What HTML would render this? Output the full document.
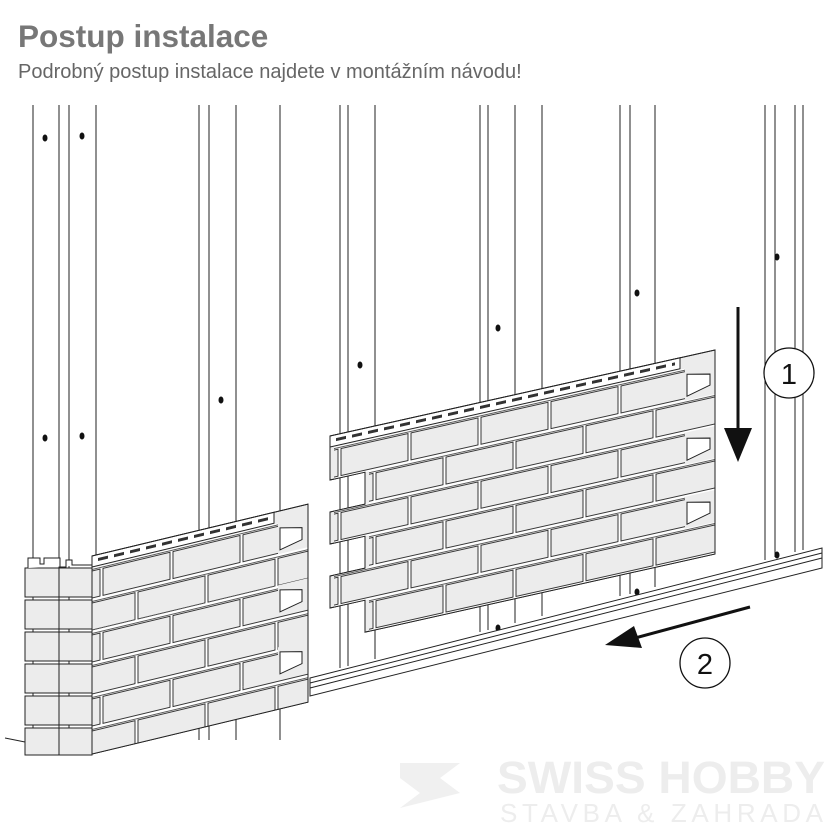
<!DOCTYPE html>
<html><head><meta charset="utf-8"><style>
html,body{margin:0;padding:0;background:#fff;width:828px;height:828px;overflow:hidden}
svg{display:block}
</style></head><body>
<svg width="828" height="828" viewBox="0 0 828 828" xmlns="http://www.w3.org/2000/svg" font-family="Liberation Sans, sans-serif">
<defs>
<pattern id="br" width="140" height="64" patternUnits="userSpaceOnUse" x="0" y="0">
 <rect x="0" y="0" width="140" height="64" fill="#fff"/>
 <g fill="#ececec" stroke="#222" stroke-width="0.9">
 <rect x="11" y="3" width="67" height="27"/><rect x="81" y="3" width="67" height="27"/><rect x="-59" y="3" width="67" height="27"/>
 <rect x="-24" y="35" width="67" height="27"/><rect x="46" y="35" width="67" height="27"/><rect x="116" y="35" width="67" height="27"/>
 </g>
 <line x1="0" y1="1.5" x2="140" y2="1.5" stroke="#222" stroke-width="0.7"/>
 <line x1="0" y1="33.5" x2="140" y2="33.5" stroke="#222" stroke-width="0.7"/>
</pattern>
</defs>

<text x="18" y="47" font-size="31.5" font-weight="bold" fill="#777">Postup instalace</text>
<text x="18" y="78" font-size="20" fill="#666">Podrobný postup instalace najdete v montážním návodu!</text>

<!-- watermark -->
<polygon points="400,763 460,763 440,778 460,793 400,808 420,793 400,778" fill="#f0f0f0"/>
<text x="497" y="793" font-size="45" font-weight="bold" fill="#ededed" textLength="328" lengthAdjust="spacingAndGlyphs">SWISS HOBBY</text>
<text x="500" y="822" font-size="26" fill="#ededed" textLength="323" lengthAdjust="spacing">STAVBA &amp; ZAHRADA</text>

<!-- vertical battens -->
<g stroke="#222" stroke-width="1">
<line x1="33" y1="105" x2="33" y2="740"/><line x1="59" y1="105" x2="59" y2="740"/><line x1="69" y1="105" x2="69" y2="740"/><line x1="96" y1="105" x2="96" y2="740"/>
<line x1="199" y1="105" x2="199" y2="740"/><line x1="209" y1="105" x2="209" y2="740"/><line x1="236" y1="105" x2="236" y2="740"/><line x1="280" y1="105" x2="280" y2="740"/>
<line x1="340" y1="105" x2="340" y2="668"/><line x1="348" y1="105" x2="348" y2="666"/><line x1="375" y1="105" x2="375" y2="659"/>
<line x1="480" y1="105" x2="480" y2="632"/><line x1="488" y1="105" x2="488" y2="630"/><line x1="515" y1="105" x2="515" y2="623"/><line x1="542" y1="105" x2="542" y2="616"/>
<line x1="620" y1="105" x2="620" y2="596"/><line x1="630" y1="105" x2="630" y2="594"/><line x1="655" y1="105" x2="655" y2="587"/>
<line x1="765" y1="105" x2="765" y2="560"/><line x1="775" y1="105" x2="775" y2="557"/><line x1="795" y1="105" x2="795" y2="552"/><line x1="803" y1="105" x2="803" y2="550"/>
</g>
<g fill="#111">
<ellipse cx="45" cy="138" rx="2.5" ry="3.5"/><ellipse cx="82" cy="136" rx="2.5" ry="3.5"/><ellipse cx="45" cy="438" rx="2.5" ry="3.5"/><ellipse cx="82" cy="436" rx="2.5" ry="3.5"/>
<ellipse cx="221" cy="400" rx="2.5" ry="3.5"/><ellipse cx="360" cy="365" rx="2.5" ry="3.5"/><ellipse cx="498" cy="328" rx="2.5" ry="3.5"/><ellipse cx="637" cy="293" rx="2.5" ry="3.5"/>
<ellipse cx="777" cy="257" rx="2.5" ry="3.5"/><ellipse cx="777" cy="555" rx="2.5" ry="3.5"/><ellipse cx="637" cy="592" rx="2.5" ry="3.5"/><ellipse cx="498" cy="628" rx="2.5" ry="3.5"/>
</g>

<!-- rail -->
<g stroke="#222" stroke-width="1" fill="none">
<polygon points="310,678 822,548 822,568 310,696" fill="#fff"/>
<line x1="310" y1="683" x2="822" y2="553"/>
<line x1="310" y1="688" x2="822" y2="558"/>
<line x1="5" y1="738" x2="25" y2="742"/>
</g>

<!-- right panel -->
<g transform="translate(330,448) skewY(-12.6)" stroke="#222" stroke-width="1">
 <path d="M0,-12 H385 V192 H35 V160 H0 V128 H35 V96 H0 V64 H35 V32 H0 Z" fill="#ececec"/>
 <rect x="0" y="-12" width="350" height="11" fill="#fff"/>
 <line x1="6" y1="-7" x2="345" y2="-7" stroke="#333" stroke-width="3" stroke-dasharray="10 6"/>
 <rect x="4" y="0" width="351" height="32" fill="url(#br)" stroke="none"/>
 <rect x="39" y="32" width="346" height="32" fill="url(#br)" stroke="none"/>
 <rect x="4" y="64" width="351" height="32" fill="url(#br)" stroke="none"/>
 <rect x="39" y="96" width="346" height="32" fill="url(#br)" stroke="none"/>
 <rect x="4" y="128" width="351" height="32" fill="url(#br)" stroke="none"/>
 <rect x="39" y="160" width="346" height="32" fill="url(#br)" stroke="none"/>
 <g fill="#fff"><polygon points="357,6 380,11 380,22 357,28"/><polygon points="357,70 380,75 380,86 357,92"/><polygon points="357,134 380,139 380,150 357,156"/></g>
 <path d="M0,-12 H385 V192 H35 V160 H0 V128 H35 V96 H0 V64 H35 V32 H0 Z" fill="none"/>
</g>

<!-- left panel -->
<g transform="translate(92,568) skewY(-13.5)" stroke="#222" stroke-width="1">
 <path d="M0,-12 H216 V186 H0 Z" fill="#ececec"/>
 <rect x="0" y="-12" width="182" height="11" fill="#fff"/>
 <line x1="6" y1="-7" x2="180" y2="-7" stroke="#333" stroke-width="3" stroke-dasharray="10 6"/>
 <rect x="0" y="0" width="186" height="31" fill="url(#br)" stroke="none"/>
 <rect x="0" y="31" width="216" height="31" fill="url(#br)" stroke="none"/>
 <rect x="0" y="62" width="186" height="31" fill="url(#br)" stroke="none"/>
 <rect x="0" y="93" width="216" height="31" fill="url(#br)" stroke="none"/>
 <rect x="0" y="124" width="186" height="31" fill="url(#br)" stroke="none"/>
 <rect x="0" y="155" width="216" height="31" fill="url(#br)" stroke="none"/>
 <g fill="#fff"><polygon points="188,5 210,10 210,22 188,27"/><polygon points="188,67 210,72 210,84 188,89"/><polygon points="188,129 210,134 210,146 188,151"/></g>
 <path d="M0,-12 H216 V186 H0 Z" fill="none"/>
</g>

<!-- corner -->
<g stroke="#222" stroke-width="1" fill="#ececec">
 <rect x="25" y="568" width="34" height="29"/><rect x="59" y="568" width="33" height="29"/>
 <rect x="25" y="600" width="34" height="29"/><rect x="59" y="600" width="33" height="29"/>
 <rect x="25" y="632" width="34" height="29"/><rect x="59" y="632" width="33" height="29"/>
 <rect x="25" y="664" width="34" height="29"/><rect x="59" y="664" width="33" height="29"/>
 <rect x="25" y="696" width="34" height="29"/><rect x="59" y="696" width="33" height="29"/>
 <rect x="25" y="728" width="34" height="27"/><rect x="59" y="728" width="33" height="27"/>
 <path d="M28,568 V558 H40 V564 H44 V558 H60 V567 H66 V560 H72 V565 H92" fill="#fff"/>
</g>

<!-- arrows -->
<line x1="738" y1="307" x2="738" y2="430" stroke="#111" stroke-width="3"/>
<polygon points="724,428 752,428 738,462" fill="#111"/>
<line x1="750" y1="607" x2="635" y2="638" stroke="#111" stroke-width="3"/>
<polygon points="605,645 634,626 642,648" fill="#111"/>
<g fill="#fff" stroke="#111" stroke-width="1.3">
<circle cx="789" cy="373" r="25"/><circle cx="705" cy="663" r="25"/>
</g>
<text x="789" y="384" font-size="29" text-anchor="middle" fill="#111">1</text>
<text x="705" y="674" font-size="29" text-anchor="middle" fill="#111">2</text>
</svg>
</body></html>
